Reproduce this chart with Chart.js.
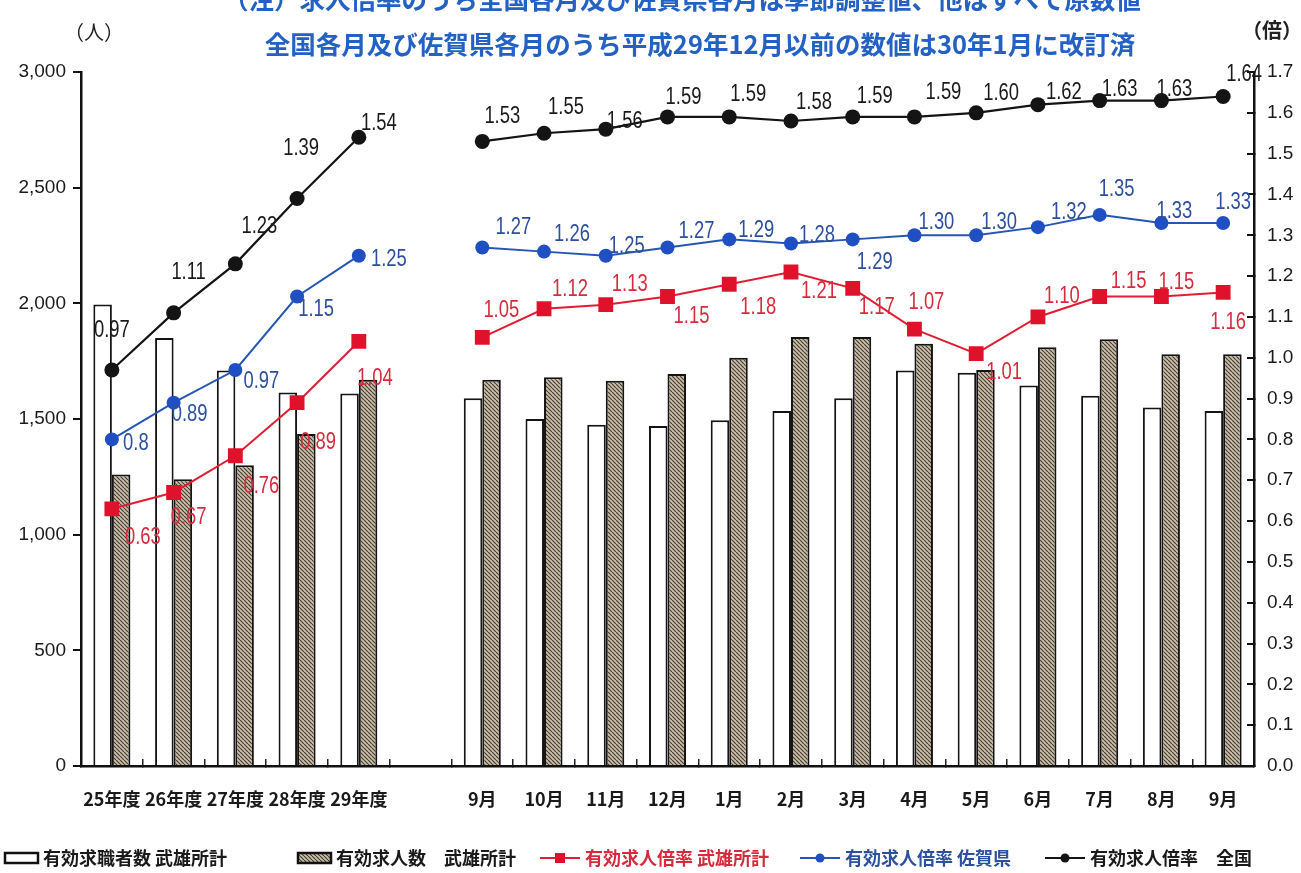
<!DOCTYPE html>
<html lang="ja">
<head>
<meta charset="utf-8">
<title>有効求人倍率の推移</title>
<script src="https://cdn.jsdelivr.net/npm/chart.js@4.4.1/dist/chart.umd.min.js"></script>
<style>
  html, body { margin: 0; padding: 0; background: #fff; }
  #wrap { width: 1301px; height: 873px; }
</style>
</head>
<body>
<div id="wrap"><canvas id="jobChart" width="1301" height="873"></canvas></div>
<script>
const periods = ['25年度', '26年度', '27年度', '28年度', '29年度', '', '9月', '10月', '11月', '12月', '1月', '2月', '3月', '4月', '5月', '6月', '7月', '8月', '9月'];
// 武雄所計（人）
const seekers  = [1995, 1850, 1710, 1615, 1610, null, 1590, 1500, 1475, 1470, 1495, 1535, 1590, 1710, 1700, 1645, 1600, 1550, 1535];
const openings = [1260, 1240, 1300, 1435, 1670, null, 1670, 1680, 1665, 1695, 1765, 1855, 1855, 1825, 1712, 1810, 1845, 1780, 1780];
// 有効求人倍率（倍）
const ratioTakeo  = [0.63, 0.67, 0.76, 0.89, 1.04, null, 1.05, 1.12, 1.13, 1.15, 1.18, 1.21, 1.17, 1.07, 1.01, 1.10, 1.15, 1.15, 1.16];
const ratioSaga   = [0.8, 0.89, 0.97, 1.15, 1.25, null, 1.27, 1.26, 1.25, 1.27, 1.29, 1.28, 1.29, 1.30, 1.30, 1.32, 1.35, 1.33, 1.33];
const ratioNation = [0.97, 1.11, 1.23, 1.39, 1.54, null, 1.53, 1.55, 1.56, 1.59, 1.59, 1.58, 1.59, 1.59, 1.60, 1.62, 1.63, 1.63, 1.64];

const NUM_FONT = '"Liberation Sans", Arial, sans-serif';
const JP_FONT = '"Noto Sans CJK JP", "Noto Sans", sans-serif';

const canvas = document.getElementById('jobChart');
const ctx = canvas.getContext('2d');

// diagonal hatch used for the 求人数 bars
const hatchTile = document.createElement('canvas');
hatchTile.width = 4;
hatchTile.height = 4;
{
    const g = hatchTile.getContext('2d');
    g.fillStyle = '#cdbfa6';
    g.fillRect(0, 0, 4, 4);
    g.strokeStyle = '#433f39';
    g.lineWidth = 1.2;
    g.beginPath();
    for (let k = -1; k <= 1; k++) {
        g.moveTo(k * 4, 0);
        g.lineTo(k * 4 + 4, 4);
    }
    g.stroke();
}
const hatch = ctx.createPattern(hatchTile, 'repeat');

// value labels next to each line point (drawn a little condensed)
const pointLabels = {
    id: 'pointLabels',
    afterDatasetsDraw(chart) {
        const c = chart.ctx;
        c.save();
        c.font = '23px ' + NUM_FONT;
        c.textAlign = 'center';
        c.textBaseline = 'middle';
        chart.data.datasets.forEach((ds, i) => {
            if (ds.type !== 'line') return;
            const meta = chart.getDatasetMeta(i);
            c.fillStyle = ds.labelColor;
            meta.data.forEach((pt, j) => {
                const v = ds.data[j];
                if (v === null) return;
                const [dx, dy] = ds.labelShift[j];
                c.save();
                c.translate(pt.x + dx, pt.y + dy);
                c.scale(0.8, 1);
                c.fillText(ds.labelFormat(v, j), 0, 0);
                c.restore();
            });
        });
        c.restore();
    }
};

// note lines at the top and the axis units
const notes = {
    id: 'notes',
    afterDraw(chart, args, opts) {
        const c = chart.ctx;
        c.save();
        c.textBaseline = 'middle';
        c.textAlign = 'center';
        c.fillStyle = opts.color;
        c.font = 'bold 25.5px ' + JP_FONT;
        opts.lines.forEach(l => c.fillText(l.text, l.x, l.y));
        c.fillStyle = '#222';
        c.font = '20px ' + JP_FONT;
        c.fillText('（人）', 94, 32);
        c.font = 'bold 20px ' + JP_FONT;
        c.fillText('（倍）', 1272, 30);
        c.restore();
    }
};

// legend row along the bottom edge
const legendRow = {
    id: 'legendRow',
    afterDraw(chart, args, opts) {
        const c = chart.ctx;
        const y = opts.y;
        c.save();
        c.font = 'bold 18px ' + JP_FONT;
        c.textBaseline = 'middle';
        c.textAlign = 'left';
        opts.items.forEach(item => {
            const ds = chart.data.datasets[item.dataset];
            const x = item.x;
            if (ds.type === 'bar') {
                c.fillStyle = ds.backgroundColor;
                c.fillRect(x, y - 5, 33, 10);
                c.lineWidth = 2.5;
                c.strokeStyle = '#111';
                c.strokeRect(x, y - 5, 33, 10);
                c.fillStyle = '#1a1a1a';
                c.fillText(ds.label, x + 38, y);
            } else {
                c.strokeStyle = ds.borderColor;
                c.lineWidth = 2;
                c.beginPath();
                c.moveTo(x, y);
                c.lineTo(x + 40, y);
                c.stroke();
                c.fillStyle = ds.pointBackgroundColor;
                if (ds.pointStyle === 'rect') {
                    c.fillRect(x + 15, y - 5, 10, 10);
                } else {
                    c.beginPath();
                    c.arc(x + 20, y, 4.5, 0, Math.PI * 2);
                    c.fill();
                }
                c.fillStyle = ds.labelColor;
                c.fillText(ds.label, x + 45, y);
            }
        });
        c.restore();
    }
};

const chart = new Chart(ctx, {
    data: {
        labels: periods,
        datasets: [
            {
                type: 'line',
                label: '有効求人倍率　全国',
                data: ratioNation,
                yAxisID: 'yRatio',
                order: 0,
                borderColor: '#141414',
                borderWidth: 2.2,
                pointStyle: 'circle',
                pointRadius: 7.5,
                pointBackgroundColor: '#141414',
                pointBorderWidth: 0,
                tension: 0,
                labelColor: '#1a1a1a',
                labelFormat: v => v.toFixed(2),
                labelShift: [[0, -39], [15, -40], [24, -37], [4, -50], [20, -14], null,
                    [20, -25], [22, -26], [19, -7], [16, -19], [19, -22], [23, -18], [22, -20],
                    [29, -24], [25, -19], [26, -12], [20, -11], [13, -11], [21, -22]]
            },
            {
                type: 'line',
                label: '有効求人倍率 佐賀県',
                data: ratioSaga,
                yAxisID: 'yRatio',
                order: 0,
                borderColor: '#2556b4',
                borderWidth: 2,
                pointStyle: 'circle',
                pointRadius: 7,
                pointBackgroundColor: '#1f4fc2',
                pointBorderWidth: 0,
                tension: 0,
                labelColor: '#2c4f9e',
                labelFormat: (v, j) => j === 0 ? String(v) : v.toFixed(2),
                labelShift: [[24, 4], [16, 12], [26, 12], [19, 13], [30, 4], null,
                    [31, -20], [28, -17], [21, -9], [29, -16], [27, -9], [26, -8], [22, 23],
                    [22, -13], [23, -13], [31, -14], [17, -25], [13, -11], [10, -20]]
            },
            {
                type: 'line',
                label: '有効求人倍率 武雄所計',
                data: ratioTakeo,
                yAxisID: 'yRatio',
                order: 0,
                borderColor: '#e21d33',
                borderWidth: 2,
                pointStyle: 'rect',
                pointRadius: 10.5,
                pointBackgroundColor: '#e0122b',
                pointBorderWidth: 0,
                tension: 0,
                labelColor: '#d62b3d',
                labelFormat: v => v.toFixed(2),
                labelShift: [[31, 29], [15, 25], [26, 31], [21, 40], [16, 37], null,
                    [19, -27], [26, -19], [24, -20], [24, 20], [29, 23], [28, 20], [24, 19],
                    [12, -27], [28, 19], [24, -20], [29, -15], [15, -14], [5, 30]]
            },
            {
                type: 'bar',
                label: '有効求職者数 武雄所計',
                data: seekers,
                yAxisID: 'yCount',
                order: 1,
                backgroundColor: '#ffffff',
                borderColor: '#141414',
                borderWidth: 2,
                categoryPercentage: 0.6,
                barPercentage: 1.0
            },
            {
                type: 'bar',
                label: '有効求人数　武雄所計',
                data: openings,
                yAxisID: 'yCount',
                order: 1,
                backgroundColor: hatch,
                borderColor: '#141414',
                borderWidth: 2,
                categoryPercentage: 0.6,
                barPercentage: 1.0
            }
        ]
    },
    options: {
        responsive: false,
        animation: false,
        events: [],
        layout: { padding: { top: 72, right: 0, bottom: 0, left: 0 } },
        plugins: {
            legend: { display: false },
            tooltip: { enabled: false },
            notes: {
                color: '#2461c4',
                lines: [
                    { text: '（注）求人倍率のうち全国各月及び佐賀県各月は季節調整値、他はすべて原数値', x: 682, y: -1 },
                    { text: '全国各月及び佐賀県各月のうち平成29年12月以前の数値は30年1月に改訂済', x: 700, y: 44 }
                ]
            },
            legendRow: {
                y: 858,
                items: [
                    { dataset: 3, x: 5 },
                    { dataset: 4, x: 298 },
                    { dataset: 2, x: 540 },
                    { dataset: 1, x: 800 },
                    { dataset: 0, x: 1045 }
                ]
            }
        },
        scales: {
            x: {
                offset: true,
                afterFit: s => { s.height = 107; },
                grid: { offset: true, drawOnChartArea: false, tickLength: -7, color: '#222', lineWidth: 1.5 },
                border: { color: '#111', width: 2.5 },
                ticks: {
                    autoSkip: false,
                    maxRotation: 0,
                    padding: 29,
                    color: '#1a1a1a',
                    font: { family: JP_FONT, size: 18, weight: 'bold' }
                }
            },
            yCount: {
                position: 'left',
                min: 0,
                max: 3000,
                afterFit: s => { s.width = 81; },
                grid: { drawOnChartArea: false, tickLength: 8, color: '#111', lineWidth: 2 },
                border: { color: '#111', width: 2.5 },
                ticks: {
                    stepSize: 500,
                    padding: 7,
                    color: '#1a1a1a',
                    font: { family: NUM_FONT, size: 19 },
                    callback: v => v.toLocaleString('en-US')
                }
            },
            yRatio: {
                position: 'right',
                min: 0,
                max: 1.7,
                afterFit: s => { s.width = 47; },
                grid: { drawOnChartArea: false, tickLength: -7, color: '#111', lineWidth: 2 },
                border: { color: '#111', width: 2.5 },
                ticks: {
                    stepSize: 0.1,
                    padding: 20,
                    color: '#1a1a1a',
                    font: { family: NUM_FONT, size: 19 },
                    callback: v => v.toFixed(1)
                }
            }
        }
    },
    plugins: [pointLabels, notes, legendRow]
});
</script>
</body>
</html>
